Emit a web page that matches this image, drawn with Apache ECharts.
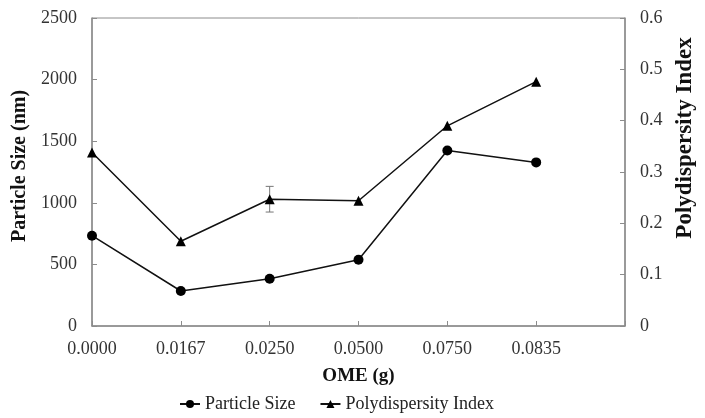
<!DOCTYPE html>
<html><head><meta charset="utf-8">
<script src="https://cdn.jsdelivr.net/npm/echarts@6/dist/echarts.min.js"></script>
<style>html,body{margin:0;padding:0;background:#fff}#c{width:705px;height:418px}</style>
</head><body><div id="c"></div>
<script>
const categories = ['0.0000','0.0167','0.0250','0.0500','0.0750','0.0835',''];
const particleSize = [733, 284, 383, 538, 1425, 1328];
const pdi = [0.338, 0.165, 0.247, 0.244, 0.390, 0.476];
const pdiError = [0, 0, 0.025, 0, 0, 0];
const leftTicks = [0, 500, 1000, 1500, 2000, 2500];
const rightTicks = [0, 0.1, 0.2, 0.3, 0.4, 0.5, 0.6];

const font = 'Liberation Serif';
const axisGray = '#8c8c8c';
const chart = echarts.init(document.getElementById('c'));
const errData = pdi.map((v,i)=>[i, v - pdiError[i], v + pdiError[i]]).filter((d,i)=>pdiError[i]>0);
chart.setOption({
  animation:false,
  textStyle:{fontFamily:font},
  grid:{left:92,right:80,top:18,bottom:92,show:true,borderColor:axisGray,borderWidth:1},
  legend:{bottom:0,left:174,itemGap:24,itemWidth:20,itemHeight:10,
    textStyle:{fontFamily:font,fontSize:18,color:'#222'},
    data:['Particle Size','Polydispersity Index']},
  xAxis:{type:'category',data:categories,boundaryGap:false,
    name:'OME (g)',nameLocation:'middle',nameGap:41,
    nameTextStyle:{fontFamily:font,fontWeight:'bold',fontSize:19,color:'#111'},
    axisLine:{lineStyle:{color:axisGray,width:1.5}},
    axisTick:{inside:true,length:5,lineStyle:{color:axisGray}},
    axisLabel:{fontFamily:font,fontSize:18,color:'#333',margin:14},
    splitLine:{show:false}},
  yAxis:[
    {type:'value',min:0,max:2500,interval:500,position:'left',
      name:'Particle Size (nm)',nameLocation:'middle',nameGap:56,
      nameTextStyle:{fontFamily:font,fontWeight:'bold',fontSize:20,color:'#111',padding:[0,0,0,12]},
      axisLine:{show:true,lineStyle:{color:axisGray,width:1.5}},
      axisTick:{show:true,inside:true,length:5,lineStyle:{color:axisGray}},
      axisLabel:{fontFamily:font,fontSize:18,color:'#333',margin:15,formatter:v=>String(v)},
      splitLine:{show:false}},
    {type:'value',min:0,max:0.6,interval:0.1,position:'right',
      name:'Polydispersity Index',nameLocation:'middle',nameGap:41,
      nameTextStyle:{fontFamily:font,fontWeight:'bold',fontSize:23,color:'#111',padding:[0,0,0,68]},
      axisLine:{show:true,lineStyle:{color:axisGray,width:1.5}},
      axisTick:{show:true,inside:true,length:5,lineStyle:{color:axisGray}},
      axisLabel:{fontFamily:font,fontSize:18,color:'#333',margin:15,
        formatter:v=>v===0?'0':v.toFixed(1)},
      splitLine:{show:false}}
  ],
  series:[
    {name:'Particle Size',type:'line',yAxisIndex:0,data:particleSize,
      symbol:'circle',symbolSize:10,itemStyle:{color:'#000'},
      lineStyle:{color:'#111',width:1.5}},
    {name:'Polydispersity Index',type:'line',yAxisIndex:1,data:pdi,
      symbol:'triangle',symbolSize:10,itemStyle:{color:'#000'},
      lineStyle:{color:'#111',width:1.5}},
    {type:'custom',yAxisIndex:1,data:errData,z:1,
      renderItem:function(params,api){
        const x = api.value(0);
        const lo = api.coord([x, api.value(1)]);
        const hi = api.coord([x, api.value(2)]);
        const w = 4;
        const st = {stroke:'#777',lineWidth:1};
        return {type:'group',children:[
          {type:'line',shape:{x1:lo[0],y1:lo[1],x2:hi[0],y2:hi[1]},style:st},
          {type:'line',shape:{x1:lo[0]-w,y1:lo[1],x2:lo[0]+w,y2:lo[1]},style:st},
          {type:'line',shape:{x1:hi[0]-w,y1:hi[1],x2:hi[0]+w,y2:hi[1]},style:st}
        ]};
      }}
  ]
});
</script></body></html>
